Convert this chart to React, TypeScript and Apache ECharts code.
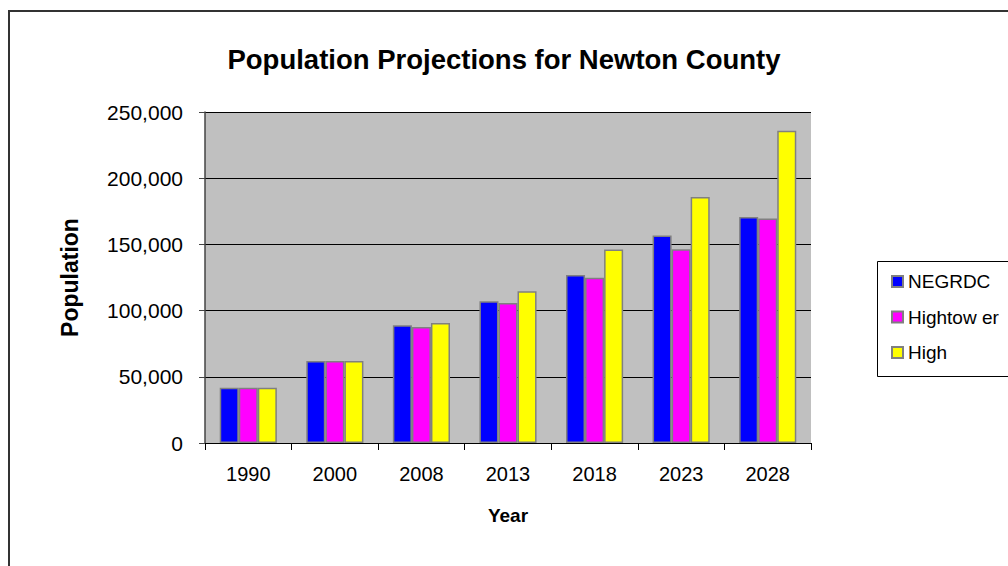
import React, { useEffect, useRef } from "react";
import * as echarts from "echarts";

const years = ["1990", "2000", "2008", "2013", "2018", "2023", "2028"];
const negrdc = [41800, 62000, 88900, 107100, 126900, 156800, 170700];
const hightower = [41800, 62000, 87600, 105800, 124800, 146400, 169500];
const high = [41800, 62000, 90700, 114700, 146200, 185800, 235800];
const seriesNames = ["NEGRDC", "Hightow er", "High"];
const seriesColors = ["#0000FF", "#FF00FF", "#FFFF00"];

const FONT = "Liberation Sans, Arial, sans-serif";

export default function App() {
  const ref = useRef<HTMLDivElement>(null);
  useEffect(() => {
    if (!ref.current) return;
    const chart = echarts.init(ref.current, undefined, { renderer: "svg" });
    const data = [negrdc, hightower, high];
    chart.setOption({
      animation: false,
      backgroundColor: "#ffffff",
      textStyle: { fontFamily: FONT },
      title: {
        text: "Population Projections for Newton County",
        left: "center",
        top: 40,
        textStyle: { fontSize: 27.5, fontWeight: "bold", color: "#000", fontFamily: FONT },
      },
      graphic: [
        {
          type: "rect",
          shape: { x: 9, y: 11, width: 1100, height: 600 },
          style: { fill: "none", stroke: "#333", lineWidth: 2 },
          z: 100,
        },
        {
          type: "rect",
          shape: { x: 877.5, y: 261.5, width: 200, height: 115 },
          style: { fill: "#fff", stroke: "#000", lineWidth: 1 },
          z: 0,
        },
      ],
      legend: {
        orient: "vertical",
        left: 886,
        top: 267,
        itemWidth: 11,
        itemHeight: 11,
        itemGap: 16.5,
        icon: "rect",
        textStyle: { fontSize: 19, color: "#000", fontFamily: FONT },
        data: seriesNames,
        z: 10,
      },
      grid: {
        left: 205,
        top: 112,
        width: 606,
        height: 331,
        show: true,
        backgroundColor: "#C0C0C0",
        borderWidth: 0,
      },
      xAxis: {
        type: "category",
        data: years,
        name: "Year",
        nameLocation: "middle",
        nameGap: 63,
        nameTextStyle: { fontSize: 19, fontWeight: "bold", color: "#000", fontFamily: FONT },
        axisLine: { lineStyle: { color: "#000", width: 1 } },
        axisTick: { show: true, length: 7, lineStyle: { color: "#000" } },
        axisLabel: { fontSize: 20, color: "#000", margin: 21, fontFamily: FONT },
        splitLine: { show: false },
      },
      yAxis: {
        type: "value",
        min: 0,
        max: 250000,
        interval: 50000,
        name: "Population",
        nameLocation: "middle",
        nameGap: 124,
        nameTextStyle: { fontSize: 23, fontWeight: "bold", color: "#000", fontFamily: FONT },
        axisLine: { show: true, lineStyle: { color: "#444", width: 1.5 } },
        axisTick: { show: true, length: 6, lineStyle: { color: "#444" } },
        axisLabel: {
          fontSize: 21,
          color: "#000",
          margin: 22,
          fontFamily: FONT,
          formatter: (v: number) => v.toLocaleString("en-US"),
        },
        splitLine: { show: true, lineStyle: { color: "#000", width: 1 } },
      },
      series: seriesNames.map((name, i) => ({
        name,
        type: "bar",
        data: data[i],
        barGap: "0%",
        barCategoryGap: "34%",
        itemStyle: { color: seriesColors[i], borderColor: "#808080", borderWidth: 1.5 },
      })),
    });
    return () => chart.dispose();
  }, []);
  return (
    <div
      ref={ref}
      style={{ position: "fixed", left: 0, top: 0, width: 1008, height: 566 }}
    />
  );
}
